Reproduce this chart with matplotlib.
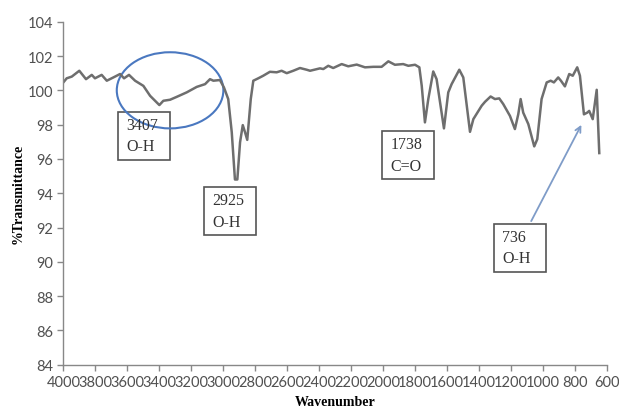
import matplotlib.pyplot as plt
from matplotlib.patches import Ellipse, Rectangle

# spectrum (wavenumber, %T)
wavenumber = [4000, 3979, 3947, 3900, 3858, 3822, 3802, 3760, 3728, 3687, 3645, 3620, 3589,
              3551, 3499, 3457, 3399, 3374, 3332, 3290, 3228, 3165, 3113, 3082, 3061, 3020,
              2995, 2968, 2946, 2926, 2911, 2894, 2877, 2863, 2849, 2827, 2811, 2780, 2749,
              2707, 2665, 2634, 2602, 2561, 2519, 2477, 2456, 2394, 2373, 2342, 2311, 2258,
              2217, 2164, 2112, 2060, 2008, 1966, 1925, 1873, 1841, 1799, 1772, 1757, 1737,
              1716, 1685, 1664, 1618, 1591, 1570, 1522, 1497, 1455, 1434, 1382, 1361, 1326,
              1299, 1272, 1247, 1205, 1174, 1153, 1138, 1122, 1090, 1053, 1034, 1007, 975,
              950, 930, 903, 886, 861, 834, 812, 784, 767, 742, 721, 709, 687, 662, 646]
transmittance = [100.46, 100.7, 100.8, 101.14, 100.65, 100.9, 100.7, 100.9, 100.56, 100.75,
                 100.95, 100.7, 100.9, 100.56, 100.26, 99.68, 99.14, 99.39, 99.45, 99.62,
                 99.88, 100.2, 100.36, 100.65, 100.56, 100.6, 100.17, 99.49, 97.56, 94.8,
                 94.8, 96.97, 97.97, 97.56, 97.11, 99.49, 100.56, 100.7, 100.85, 101.08,
                 101.05, 101.14, 101.0, 101.14, 101.3, 101.2, 101.14, 101.28, 101.24, 101.43,
                 101.3, 101.53, 101.4, 101.5, 101.34, 101.37, 101.37, 101.69, 101.49, 101.53,
                 101.43, 101.49, 101.34, 100.26, 98.13, 99.49, 101.1, 100.65, 97.78, 99.88,
                 100.36, 101.2, 100.75, 97.58, 98.32, 99.1, 99.33, 99.64, 99.49, 99.53, 99.2,
                 98.51, 97.74, 98.6, 99.49, 98.7, 98.03, 96.73, 97.15, 99.49, 100.46, 100.56,
                 100.46, 100.75, 100.56, 100.23, 100.95, 100.85, 101.34, 100.85, 98.6, 98.7,
                 98.8, 98.32, 100.03, 96.34]

x_ticks = list(range(4000, 599, -200))
y_ticks = list(range(84, 105, 2))

# peak labels: text, box left/top in data units
labels = ["3407\nO-H", "2925\nO-H", "1738\nC=O", "736\nO-H"]
box_left = [3656, 3118, 2004, 1305]
box_top = [98.75, 94.37, 97.64, 92.23]
box_w = 325
box_h = 2.8

fig = plt.figure(figsize=(6.19, 4.10), dpi=100)
ax = fig.add_axes([0.1023, 0.108, 0.8777, 0.8366])

ax.plot(wavenumber, transmittance, color='#6e6e6e', lw=1.8, solid_joinstyle='round')

ax.set_xlim(4000, 600)
ax.set_ylim(84, 104)
ax.set_xticks(x_ticks)
ax.set_yticks(y_ticks)
ax.tick_params(labelsize=10.5, colors='#888888', labelcolor='#505050', length=4,
               width=1, direction='out')
for lab in ax.get_xticklabels() + ax.get_yticklabels():
    lab.set_family('Lato')
for s in ['top', 'right']:
    ax.spines[s].set_visible(False)
for s in ['left', 'bottom']:
    ax.spines[s].set_color('#888888')
    ax.spines[s].set_linewidth(1)

ax.set_xlabel('Wavenumber', family='Liberation Serif', fontweight='bold', fontsize=10,
              labelpad=4)
ax.set_ylabel('%Transmittance', family='Liberation Serif', fontweight='bold', fontsize=10,
              labelpad=2)

for lab, l, t in zip(labels, box_left, box_top):
    ax.add_patch(Rectangle((l, t - box_h), -box_w, box_h, fill=False, ec='#555555', lw=1.2,
                           clip_on=False))
    ax.text(l - 50, t - box_h / 2, lab, family='Liberation Serif', fontsize=11.5,
            color='#333333', ha='left', va='center', linespacing=1.45)

ax.add_patch(Ellipse((3332, 100.0), 667, 4.44, fill=False, ec='#4a78c0', lw=1.5))

ax.annotate('', xy=(750, 98.13), xytext=(1080, 92.23),
            arrowprops=dict(arrowstyle='->', color='#7f9cc8', lw=1.3))

fig.savefig('out.png')
